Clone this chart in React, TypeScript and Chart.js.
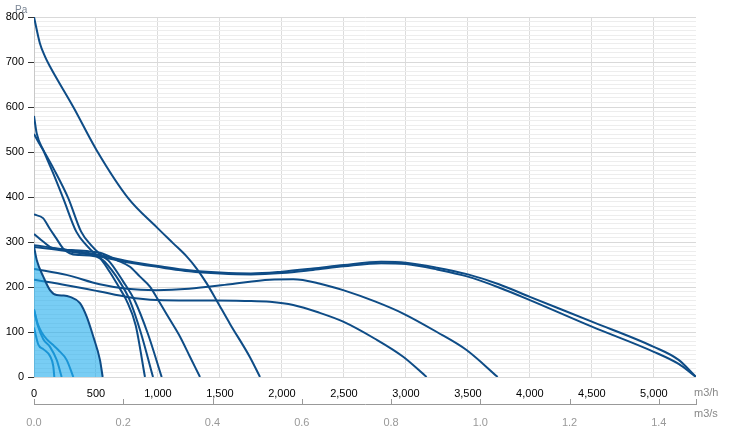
import { useEffect, useRef } from "react";
import { Chart, registerables } from "chart.js";

Chart.register(...registerables);

// ---- axis settings ----
const FLOW_MAX = 5340; // m3/h
const PRESSURE_MAX = 800; // Pa
const X_TICKS = [0, 500, 1000, 1500, 2000, 2500, 3000, 3500, 4000, 4500, 5000];
const X2_STEP = 0.2;
const Y_MINOR_STEP = 10;
const Y_MAJOR_STEP = 100;
const X_UNIT = "m3/h";
const X2_UNIT = "m3/s";
const Y_UNIT = "Pa";

// ---- curves: [flow m3/h, pressure Pa] ----
const curveFilled: [number, number][] = [
  [0, 290], [22, 260], [75, 223], [129, 193], [183, 182], [240, 181], [290, 178],
  [371, 164], [425, 134], [478, 90], [532, 38], [554, 0],
];
const curveSmallA: [number, number][] = [
  [0, 110], [35, 72], [75, 62], [130, 46], [155, 25], [164, 0],
];
const curveSmallB: [number, number][] = [
  [0, 150], [30, 115], [75, 84], [129, 67], [183, 38], [223, 0],
];
const curveSmallC: [number, number][] = [
  [0, 150], [30, 118], [60, 100], [102, 84], [150, 72], [196, 60], [263, 38], [317, 0],
];
const curve800: [number, number][] = [
  [0, 800], [48, 741], [89, 712], [129, 690], [317, 600], [505, 504], [761, 397],
  [989, 333], [1123, 297], [1231, 268], [1312, 241], [1393, 208], [1473, 170],
  [1581, 118], [1742, 44], [1823, 0],
];
const curve580: [number, number][] = [
  [0, 580], [22, 541], [75, 504], [156, 452], [236, 397], [341, 323], [422, 293],
  [502, 271], [570, 256], [691, 212], [772, 171], [860, 100], [960, 0],
];
const curve540: [number, number][] = [
  [0, 540], [40, 520], [75, 504], [160, 462], [277, 397], [380, 323], [460, 293],
  [540, 271], [610, 256], [720, 212], [810, 171], [920, 95], [1030, 0],
];
const curve361: [number, number][] = [
  [0, 361], [73, 353], [126, 330], [180, 308], [234, 286], [288, 275], [368, 271],
  [449, 270], [530, 264], [610, 234], [691, 197], [745, 171], [820, 115], [895, 0],
];
const curve318: [number, number][] = [
  [0, 318], [73, 301], [153, 286], [300, 282], [450, 279], [532, 276], [667, 260],
  [774, 245], [855, 223], [935, 201], [1002, 171], [1097, 127], [1177, 90],
  [1258, 45], [1339, 0],
];
const curve240: [number, number][] = [
  [0, 240], [261, 227], [530, 206], [750, 196], [989, 193], [1250, 196], [1581, 206],
  [1903, 216], [2091, 217], [2300, 208], [2494, 193], [2750, 168], [2978, 141],
  [3250, 100], [3489, 60], [3740, 0],
];
const curve216: [number, number][] = [
  [0, 216], [261, 204], [530, 190], [750, 178], [989, 171], [1250, 170], [1473, 170],
  [1700, 169], [1903, 167], [2091, 160], [2300, 143], [2494, 123], [2750, 85],
  [2978, 45], [3167, 0],
];
const curveLongA: [number, number][] = [
  [0, 293], [261, 283], [530, 271], [750, 258], [1040, 245], [1250, 237], [1500, 232],
  [1750, 230], [2000, 234], [2250, 241], [2500, 249], [2800, 256], [3000, 254],
  [3250, 243], [3500, 228], [3750, 206], [4000, 178], [4500, 123], [5000, 67],
  [5200, 38], [5340, 0],
];
const curveLongB: [number, number][] = [
  [0, 289], [261, 280], [530, 268], [750, 255], [1040, 243], [1250, 235], [1500, 230],
  [1750, 228], [2000, 231], [2250, 238], [2500, 246], [2800, 253], [3000, 251],
  [3250, 239], [3500, 223], [3750, 199], [4000, 171], [4500, 112], [5000, 56],
  [5200, 29], [5340, 0],
];

const darkCurves = [
  curve800, curve580, curve540, curve361, curve318, curve240, curve216, curveLongA, curveLongB,
];
const smallCurves = [curveSmallA, curveSmallB, curveSmallC];

const DARK = "#0e4c86";
const MID = "#1673b3";
const FILL = "rgba(30,172,236,0.6)";
const FONT = "'Liberation Sans', Arial, sans-serif";

const toPts = (c: [number, number][]) => c.map(([x, y]) => ({ x, y }));
const isMajor = (v: number) => Math.round(v) % Y_MAJOR_STEP === 0;

export default function App() {
  const ref = useRef<HTMLCanvasElement | null>(null);

  useEffect(() => {
    if (!ref.current) return;
    const base = {
      showLine: true,
      pointRadius: 0,
      pointHoverRadius: 0,
      borderWidth: 2,
      cubicInterpolationMode: "monotone" as const,
    };
    const datasets: any[] = [
      { ...base, data: toPts(curveFilled), borderColor: DARK, backgroundColor: FILL, fill: "origin" },
      ...smallCurves.map((c) => ({ ...base, data: toPts(c), borderColor: MID, fill: false })),
      ...darkCurves.map((c) => ({ ...base, data: toPts(c), borderColor: DARK, fill: false })),
    ];

    const unitsPlugin = {
      id: "units",
      afterDraw(chart: any) {
        const { ctx, chartArea } = chart;
        const x = chart.scales.x;
        const x2 = chart.scales.x2;
        ctx.save();
        ctx.strokeStyle = "#999";
        ctx.lineWidth = 1;
        const tickVals = x2.ticks.map((t: any) => t.value).concat([x2.max]);
        tickVals.forEach((v: number) => {
          const px = Math.round(x2.getPixelForValue(v)) + 0.5;
          ctx.beginPath();
          ctx.moveTo(px, x2.top);
          ctx.lineTo(px, x2.top - 5);
          ctx.stroke();
        });
        ctx.fillStyle = "#888";
        ctx.font = `11px ${FONT}`;
        ctx.textAlign = "left";
        ctx.textBaseline = "middle";
        ctx.fillText(X_UNIT, chartArea.right - 2, x.top + 16);
        ctx.fillText(X2_UNIT, chartArea.right - 2, x2.top + 10);
        ctx.fillStyle = "#7a8594";
        ctx.font = `10px ${FONT}`;
        ctx.fillText(Y_UNIT, 15, 10);
        ctx.restore();
      },
    };

    const chart = new Chart(ref.current, {
      type: "scatter",
      data: { datasets },
      plugins: [unitsPlugin],
      options: {
        animation: false,
        responsive: true,
        maintainAspectRatio: false,
        layout: { padding: { left: 0, right: 42, top: 17, bottom: 0 } },
        plugins: { legend: { display: false }, tooltip: { enabled: false } },
        events: [],
        scales: {
          x: {
            type: "linear",
            position: "bottom",
            weight: 0,
            min: 0,
            max: FLOW_MAX,
            afterBuildTicks: (s: any) => {
              s.ticks = X_TICKS.map((v) => ({ value: v }));
            },
            ticks: {
              autoSkip: false,
              maxRotation: 0,
              color: "#000",
              padding: 10,
              font: { family: FONT, size: 11 },
              callback: (v: any) => Number(v).toLocaleString("en-US"),
            },
            grid: { color: "#dcdcdc", drawTicks: false, lineWidth: 1 },
            border: { display: false },
            afterFit: (s: any) => { s.height = 27; },
          },
          x2: {
            type: "linear",
            position: "bottom",
            weight: 1,
            min: 0,
            max: FLOW_MAX / 3600,
            ticks: {
              stepSize: X2_STEP,
              maxTicksLimit: 100,
              includeBounds: false,
              autoSkip: false,
              maxRotation: 0,
              color: "#999",
              padding: 4,
              font: { family: FONT, size: 11 },
              callback: (v: any) => Number(v).toFixed(1),
            },
            grid: { display: false, drawOnChartArea: false },
            border: { display: true, color: "#999", width: 1 },
            afterFit: (s: any) => { s.height = 26; },
          },
          y: {
            type: "linear",
            min: 0,
            max: PRESSURE_MAX,
            ticks: {
              stepSize: Y_MINOR_STEP,
              maxTicksLimit: 1000,
              autoSkip: false,
              color: "#000",
              padding: 4,
              font: { family: FONT, size: 11 },
              callback: (v: any) => (isMajor(Number(v)) ? String(Math.round(Number(v))) : ""),
            },
            grid: {
              color: (c: any) => (c.tick && isMajor(c.tick.value) ? "#d9d9d9" : "#ededed"),
              tickColor: (c: any) => (c.tick && isMajor(c.tick.value) ? "#333" : "rgba(0,0,0,0)"),
              tickLength: 6,
            },
            border: { display: true, color: "#c8c8c8" },
            afterFit: (s: any) => { s.width = 34; },
          },
        },
      } as any,
    });
    return () => chart.destroy();
  }, []);

  return (
    <div style={{ position: "absolute", left: 0, top: 0, width: 738, height: 430 }}>
      <canvas ref={ref} />
    </div>
  );
}
